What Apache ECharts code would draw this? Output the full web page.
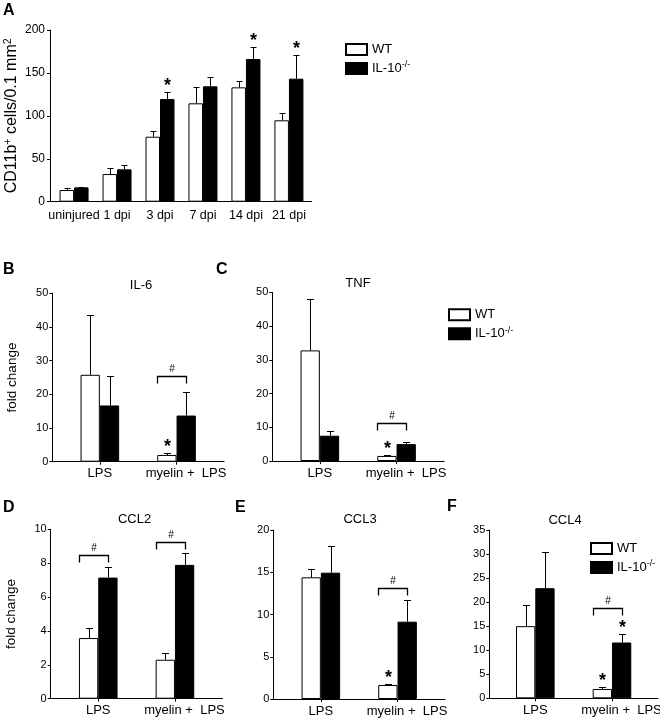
<!DOCTYPE html>
<html><head><meta charset="utf-8">
<script src="https://cdn.jsdelivr.net/npm/echarts@6/dist/echarts.min.js"></script>
<style>html,body{margin:0;padding:0;background:#fff}#c{width:660px;height:719px}</style>
</head><body><div id="c"></div><script>
const FONT = '"Liberation Sans", Arial, Helvetica, sans-serif';

// ---------- Panel A: CD11b+ cells ----------
const catsA = ['uninjured', '1 dpi', '3 dpi', '7 dpi', '14 dpi', '21 dpi'];
const ticksA = [0, 50, 100, 150, 200];
const aWT = [13.6, 32.2, 75.7, 114.6, 133.2, 94.8];
const aWTsem = [1.9, 6.6, 7.0, 19.4, 7.8, 8.9];
const aKO = [16.7, 37.7, 119.6, 134.4, 166.2, 143.3];
const aKOsem = [0.8, 5.0, 7.8, 11.2, 14.4, 27.6];
const aWTstar = [0, 0, 0, 0, 0, 0];
const aKOstar = [0, 0, 1, 0, 1, 1];

// ---------- Panels B-F: fold change ----------
const catsStim = ['LPS', 'myelin +  LPS'];

const ticksIL6 = [0, 10, 20, 30, 40, 50];
const il6WT = [25.8, 2.0], il6WTsem = [17.8, 0.5];
const il6KO = [16.7, 13.7], il6KOsem = [8.8, 6.9];
const il6WTstar = [0, 1], il6KOstar = [0, 0];
const il6Hash = [null, 25.4];

const ticksTNF = [0, 10, 20, 30, 40, 50];
const tnfWT = [32.8, 1.5], tnfWTsem = [15.2, 0.2];
const tnfKO = [7.5, 5.0], tnfKOsem = [1.5, 0.5];
const tnfWTstar = [0, 1], tnfKOstar = [0, 0];
const tnfHash = [null, 11.4];

const ticksCCL2 = [0, 2, 4, 6, 8, 10];
const ccl2WT = [3.58, 2.3], ccl2WTsem = [0.57, 0.4];
const ccl2KO = [7.15, 7.9], ccl2KOsem = [0.65, 0.7];
const ccl2WTstar = [0, 0], ccl2KOstar = [0, 0];
const ccl2Hash = [8.48, 9.25];

const ticksCCL3 = [0, 5, 10, 15, 20];
const ccl3WT = [14.4, 1.66], ccl3WTsem = [1.0, 0.12];
const ccl3KO = [14.95, 9.15], ccl3KOsem = [3.15, 2.6];
const ccl3WTstar = [0, 1], ccl3KOstar = [0, 0];
const ccl3Hash = [null, 13.1];

const ticksCCL4 = [0, 5, 10, 15, 20, 25, 30, 35];
const ccl4WT = [15.0, 1.94], ccl4WTsem = [4.4, 0.35];
const ccl4KO = [22.9, 11.6], ccl4KOsem = [7.6, 1.8];
const ccl4WTstar = [0, 1], ccl4KOstar = [0, 1];
const ccl4Hash = [null, 18.85];

const seriesNames = ['WT', 'IL-10-/-'];

// ---------- layout (positions / sizes only) ----------
const panels = [
  { cats: catsA, ticks: ticksA, wt: aWT, wtSem: aWTsem, ko: aKO, koSem: aKOsem, wtStar: aWTstar, koStar: aKOstar, hash: [],
    yName: 'CD11b{s|+} cells/0.1 mm{s|2}',
    L: { left: 50, top: 30, width: 261.7, height: 171.7, xMin: -0.56, xMax: 5.53, barW: 14.5, cap: 6, tickFont: 12, catFont: 12.5, catMargin: 7, xTick: false, labMargin: 5, nameGap: 28, nameFont: 16 } },
  { cats: catsStim, ticks: ticksIL6, wt: il6WT, wtSem: il6WTsem, ko: il6KO, koSem: il6KOsem, wtStar: il6WTstar, koStar: il6KOstar, hash: il6Hash,
    yName: 'fold change',
    L: { left: 52.3, top: 293.3, width: 171.8, height: 168.4, xMin: -0.62, xMax: 1.62, barW: 19.3, cap: 7, tickFont: 11, catFont: 13, catMargin: 5.5, xTick: true, labMargin: 4, nameGap: 31, nameFont: 13.5 } },
  { cats: catsStim, ticks: ticksTNF, wt: tnfWT, wtSem: tnfWTsem, ko: tnfKO, koSem: tnfKOsem, wtStar: tnfWTstar, koStar: tnfKOstar, hash: tnfHash,
    yName: '',
    L: { left: 272.3, top: 292.4, width: 171.8, height: 168.6, xMin: -0.62, xMax: 1.62, barW: 19.3, cap: 7, tickFont: 11, catFont: 13, catMargin: 5.5, xTick: true, labMargin: 4, nameGap: 31, nameFont: 13.5 } },
  { cats: catsStim, ticks: ticksCCL2, wt: ccl2WT, wtSem: ccl2WTsem, ko: ccl2KO, koSem: ccl2KOsem, wtStar: ccl2WTstar, koStar: ccl2KOstar, hash: ccl2Hash,
    yName: 'fold change',
    L: { left: 50.7, top: 529.3, width: 171.8, height: 169.4, xMin: -0.62, xMax: 1.62, barW: 19.3, cap: 7, tickFont: 11, catFont: 13, catMargin: 5.5, xTick: true, labMargin: 4, nameGap: 30, nameFont: 13.5 } },
  { cats: catsStim, ticks: ticksCCL3, wt: ccl3WT, wtSem: ccl3WTsem, ko: ccl3KO, koSem: ccl3KOsem, wtStar: ccl3WTstar, koStar: ccl3KOstar, hash: ccl3Hash,
    yName: '',
    L: { left: 273.3, top: 530, width: 171.8, height: 169, xMin: -0.62, xMax: 1.62, barW: 19.3, cap: 7, tickFont: 11, catFont: 13, catMargin: 5.5, xTick: true, labMargin: 4, nameGap: 30, nameFont: 13.5 } },
  { cats: catsStim, ticks: ticksCCL4, wt: ccl4WT, wtSem: ccl4WTsem, ko: ccl4KO, koSem: ccl4KOsem, wtStar: ccl4WTstar, koStar: ccl4KOstar, hash: ccl4Hash,
    yName: '',
    L: { left: 489.3, top: 530, width: 168.7, height: 168.3, xMin: -0.6, xMax: 1.6, barW: 19.3, cap: 7, tickFont: 11, catFont: 13, catMargin: 5.5, xTick: true, labMargin: 4, nameGap: 30, nameFont: 13.5 } }
];

function errItem(sign, L) {
  return function (params, api) {
    const j = api.value(0), m = api.value(1), e = api.value(2), star = api.value(3);
    const base = api.coord([j, m]);
    const top = api.coord([j, m + e]);
    const cx = Math.round(base[0] + sign * L.barW / 2) + 0.5;
    const yb = base[1];
    const yt = Math.round(top[1]) + 0.5;
    const ch = [
      { type: 'line', shape: { x1: cx, y1: yb, x2: cx, y2: yt }, style: { stroke: '#000', lineWidth: 1 } },
      { type: 'line', shape: { x1: cx - L.cap / 2, y1: yt, x2: cx + L.cap / 2, y2: yt }, style: { stroke: '#000', lineWidth: 1 } }
    ];
    if (star) {
      ch.push({ type: 'text', x: cx, y: yt - 6, style: { text: '*', fontSize: 18, fontWeight: 'bold', fontFamily: FONT, fill: '#000', align: 'center', verticalAlign: 'middle' } });
    }
    return { type: 'group', children: ch };
  };
}
function hashItem(L) {
  return function (params, api) {
    const j = api.value(0), h = api.value(1);
    const c = api.coord([j, h]);
    const x1 = Math.round(c[0] - L.barW) + 0.5, x2 = Math.round(c[0] + L.barW / 2) + 0.5, y = Math.round(c[1]) + 0.5;
    return { type: 'group', children: [
      { type: 'polyline', shape: { points: [[x1, y + 7], [x1, y], [x2, y], [x2, y + 7]] }, style: { stroke: '#000', lineWidth: 1.3, fill: null } },
      { type: 'text', x: (x1 + x2) / 2, y: y - 7, style: { text: '#', fontSize: 10, fontFamily: FONT, fill: '#000', align: 'center', verticalAlign: 'middle' } }
    ] };
  };
}

const grids = [], xAxes = [], yAxes = [], series = [];
panels.forEach(function (p, i) {
  const L = p.L;
  const idx = p.cats.map(function (c, j) { return j; });
  grids.push({ left: L.left, top: L.top, width: L.width, height: L.height, containLabel: false, outerBoundsMode: 'none' });
  xAxes.push({
    type: 'value', gridIndex: i, min: L.xMin, max: L.xMax, splitLine: { show: false },
    axisLine: { show: true, onZero: false, lineStyle: { color: '#000', width: 1 } },
    axisTick: { show: L.xTick, customValues: idx, length: 3, lineStyle: { color: '#000' } },
    axisLabel: {
      customValues: idx, margin: L.catMargin, color: '#000', fontSize: L.catFont, fontFamily: FONT,
      formatter: function (v) { const j = Math.round(v); return (p.cats.length === 2 && j === 1) ? '{m|' + p.cats[j] + '}' : p.cats[j]; },
      rich: { m: { padding: [0, 0, 0, 19], fontSize: L.catFont, fontFamily: FONT, color: '#000' } }
    }
  });
  yAxes.push({
    type: 'value', gridIndex: i, min: p.ticks[0], max: p.ticks[p.ticks.length - 1], interval: p.ticks[1] - p.ticks[0],
    splitLine: { show: false },
    axisLine: { show: true, onZero: false, lineStyle: { color: '#000', width: 1 } },
    axisTick: { show: true, length: 3, lineStyle: { color: '#000' } },
    axisLabel: { color: '#000', fontSize: L.tickFont, fontFamily: FONT, margin: L.labMargin },
    name: p.yName, nameLocation: 'middle', nameGap: L.nameGap,
    nameTextStyle: { color: '#000', fontSize: L.nameFont, fontFamily: FONT, lineHeight: 18,
      rich: { s: { fontSize: 10.5, fontFamily: FONT, color: '#000', lineHeight: 8, verticalAlign: 'top' } } }
  });
  series.push({ type: 'bar', name: seriesNames[0], xAxisIndex: i, yAxisIndex: i, barWidth: L.barW, barGap: '0%', silent: true, z: 2,
    data: p.wt.map(function (v, j) { return [j, v]; }), itemStyle: { color: '#fff', borderColor: '#000', borderWidth: 1 } });
  series.push({ type: 'bar', name: seriesNames[1], xAxisIndex: i, yAxisIndex: i, barWidth: L.barW, barGap: '0%', silent: true, z: 2,
    data: p.ko.map(function (v, j) { return [j, v]; }), itemStyle: { color: '#000', borderColor: '#000', borderWidth: 1 } });
  series.push({ type: 'custom', name: 'errWT' + i, xAxisIndex: i, yAxisIndex: i, silent: true, z: 3, renderItem: errItem(-1, L),
    data: p.wt.map(function (v, j) { return [j, v, p.wtSem[j], p.wtStar[j]]; }) });
  series.push({ type: 'custom', name: 'errKO' + i, xAxisIndex: i, yAxisIndex: i, silent: true, z: 3, renderItem: errItem(1, L),
    data: p.ko.map(function (v, j) { return [j, v, p.koSem[j], p.koStar[j]]; }) });
  const hd = p.hash.map(function (h, j) { return [j, h]; }).filter(function (d) { return d[1] != null; });
  if (hd.length) {
    series.push({ type: 'custom', name: 'hash' + i, xAxisIndex: i, yAxisIndex: i, silent: true, z: 3, renderItem: hashItem(L), data: hd });
  }
});

const legendPos = [{ left: 345, top: 41.5 }, { left: 448, top: 306.8 }, { left: 590, top: 540.5 }];
const legends = legendPos.map(function (pos) {
  return {
    left: pos.left, top: pos.top, orient: 'vertical', padding: 0, itemGap: 3, itemWidth: 21, itemHeight: 11,
    icon: 'rect', selectedMode: false, data: seriesNames,
    formatter: function (n) { return n === 'WT' ? 'WT' : 'IL-10{s|-/-}'; },
    textStyle: { fontSize: 13, color: '#000', fontFamily: FONT, lineHeight: 16,
      rich: { s: { fontSize: 9, color: '#000', fontFamily: FONT, lineHeight: 6, verticalAlign: 'top' } } }
  };
});

const letters = [['A', 3, 11], ['B', 3, 270], ['C', 216, 270], ['D', 3, 508], ['E', 235, 508], ['F', 447, 507]];
const titles = [['IL-6', 141, 285], ['TNF', 358, 283], ['CCL2', 134.5, 519], ['CCL3', 360, 519], ['CCL4', 565, 520]];
const gfx = [];
letters.forEach(function (t) {
  gfx.push({ type: 'text', x: t[1], y: t[2], style: { text: t[0], fontSize: 16, fontWeight: 'bold', fontFamily: FONT, fill: '#000', align: 'left', verticalAlign: 'middle' } });
});
titles.forEach(function (t) {
  gfx.push({ type: 'text', x: t[1], y: t[2], style: { text: t[0], fontSize: 13, fontFamily: FONT, fill: '#000', align: 'center', verticalAlign: 'middle' } });
});

const chart = echarts.init(document.getElementById('c'), null, { renderer: 'canvas' });
chart.setOption({
  backgroundColor: '#fff',
  animation: false,
  grid: grids, xAxis: xAxes, yAxis: yAxes, series: series,
  legend: legends,
  graphic: { elements: gfx }
});
</script></body></html>
